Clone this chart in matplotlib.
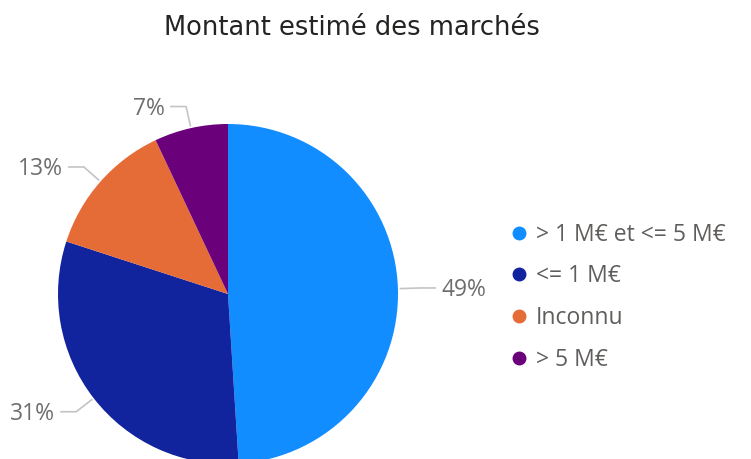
import numpy as np
import matplotlib.pyplot as plt
from matplotlib.lines import Line2D

# Data
categories = ['> 1 M€ et <= 5 M€', '<= 1 M€', 'Inconnu', '> 5 M€']
shares = [49, 31, 13, 7]
colors = ['#118DFF', '#12239E', '#E66C37', '#6B007B']

title = 'Montant estimé des marchés'
label_color = '#6E6E6E'

W, H = 751, 459
fig = plt.figure(figsize=(W / 100, H / 100), dpi=100)
ax = fig.add_axes([0, 0, 1, 1])

center = (228, 165)
radius = 170

wedges, _ = ax.pie(shares, colors=colors, startangle=90, counterclock=False,
                   center=center, radius=radius, frame=True,
                   wedgeprops=dict(linewidth=0))
ax.set_xlim(0, W)
ax.set_ylim(0, H)
ax.set_aspect('equal')
ax.axis('off')

# Percent labels with elbow leader lines
total = sum(shares)
for w, v in zip(wedges, shares):
    ang = np.deg2rad((w.theta1 + w.theta2) / 2)
    cx, cy = np.cos(ang), np.sin(ang)
    x0, y0 = center[0] + radius * 1.01 * cx, center[1] + radius * 1.01 * cy
    x1, y1 = center[0] + radius * 1.13 * cx, center[1] + radius * 1.13 * cy
    side = 1 if cx >= 0 else -1
    x2 = x1 + side * 16
    ax.plot([x0, x1, x2], [y0, y1, y1], color='#C4C4C4', lw=1.2,
            solid_capstyle='butt', clip_on=False)
    ax.text(x2 + side * 5, y1 - 2, f'{round(100 * v / total)}%', color=label_color,
            fontsize=16.5, family='Open Sans',
            ha='left' if side > 0 else 'right', va='center')

# Legend
handles = [Line2D([], [], marker='o', ls='', color=c, markersize=9) for c in colors]
ax.legend(handles, categories, loc='center left', bbox_to_anchor=(0.682, 0.352),
          frameon=False, prop=dict(family='Open Sans', size=16.5),
          labelcolor='#605E5C', handletextpad=0.45, handlelength=0.6,
          labelspacing=0.78, borderpad=0, borderaxespad=0)

fig.text(0.468, 0.94, title, ha='center', va='center', fontsize=18.5,
         color='#252423', family='DejaVu Sans')

fig.savefig('out.png', dpi=100)
